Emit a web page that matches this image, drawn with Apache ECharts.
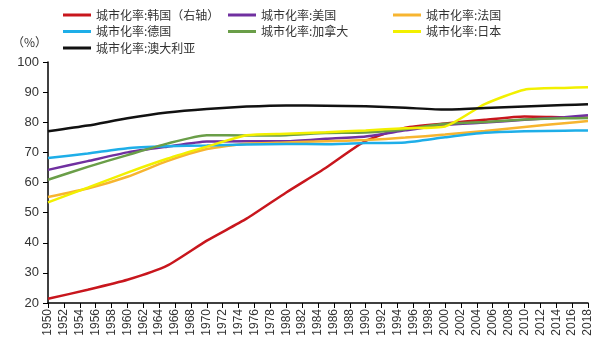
<!DOCTYPE html>
<html><head><meta charset="utf-8">
<script src="https://cdn.jsdelivr.net/npm/echarts@6/dist/echarts.min.js"></script>
<style>html,body{margin:0;padding:0;background:#fff}#c{width:600px;height:350px}</style>
</head><body><div id="c"></div>
<script>
const years = [1950,1955,1960,1965,1970,1975,1980,1985,1990,1995,2000,2005,2010,2015,2018];
const korea     = [21.4,24.4,27.7,32.4,40.7,48.0,56.7,64.9,73.8,78.2,79.6,80.8,81.9,81.6,81.5];
const usa       = [64.2,67.1,70.0,71.9,73.6,73.7,73.7,74.5,75.3,77.3,79.1,79.9,80.8,81.7,82.3];
const france    = [55.2,58.0,61.9,67.1,71.1,72.9,73.3,73.7,74.1,74.9,75.9,77.1,78.4,79.7,80.4];
const germany   = [68.1,69.6,71.4,72.0,72.3,72.6,72.8,72.7,73.1,73.3,75.0,76.5,77.0,77.2,77.3];
const canada    = [60.9,65.2,69.1,72.9,75.7,75.6,75.7,76.4,76.6,77.7,79.5,80.1,80.9,81.3,81.4];
const japan     = [53.4,58.3,63.3,67.9,71.9,75.7,76.2,76.7,77.3,78.0,78.6,86.0,90.8,91.4,91.6];
const australia = [77.0,78.9,81.3,83.2,84.4,85.2,85.6,85.5,85.3,84.8,84.2,84.7,85.2,85.7,86.0];
const names = ['城市化率:韩国（右轴）','城市化率:美国','城市化率:法国','城市化率:德国','城市化率:加拿大','城市化率:日本','城市化率:澳大利亚'];
const colors = ['#c8161d','#7030a0','#f7b530','#1eaee8','#6a9e48','#f2f000','#111111'];
const values = [korea,usa,france,germany,canada,japan,australia];

const chart = echarts.init(document.getElementById('c'));
const series = values.map((v,i)=>({
  name:names[i], type:'line', yAxisIndex: i===0?1:0,
  data: years.map((y,j)=>[y,v[j]]), symbol:'none', smooth:0.2,
  lineStyle:{width:2.5,color:colors[i]}, itemStyle:{color:colors[i]}, z: i===6?5:3
}));
const legendBase = {orient:'vertical', itemWidth:28, itemHeight:3, itemGap:4.5, padding:0,
  textStyle:{fontSize:12,color:'#333',fontFamily:'Noto Sans CJK SC'}, icon:'rect'};
chart.setOption({
  animation:false,
  legend:[
    Object.assign({left:63, top:9, data:[names[0],names[3],names[6]]}, legendBase),
    Object.assign({left:228, top:9, data:[names[1],names[4]]}, legendBase),
    Object.assign({left:393, top:9, data:[names[2],names[5]]}, legendBase)
  ],
  graphic:[{type:'text', left:12, top:36, style:{text:'（%）', fontSize:12, fill:'#333', fontFamily:'Noto Sans CJK SC'}}],
  grid:{left:48, right:12, top:62, bottom:47},
  xAxis:{type:'value', min:1950, max:2018, interval:2,
    axisLine:{lineStyle:{color:'#000',width:1.5}},
    axisTick:{show:true,length:5,lineStyle:{color:'#000'}},
    splitLine:{show:false},
    axisLabel:{rotate:90, fontSize:12, color:'#333', fontFamily:'Liberation Sans', margin:6,
      formatter:v=>String(v), showMaxLabel:true, showMinLabel:true}},
  yAxis:[{type:'value', min:20, max:100, interval:10,
    axisLine:{show:true,lineStyle:{color:'#000',width:1.5}},
    axisTick:{show:true,length:5,lineStyle:{color:'#000'}},
    splitLine:{show:false},
    axisLabel:{fontSize:13,color:'#333',fontFamily:'Liberation Sans', margin:9}},
    {type:'value', min:20, max:100, show:false, splitLine:{show:false}}],
  series
});
</script></body></html>
